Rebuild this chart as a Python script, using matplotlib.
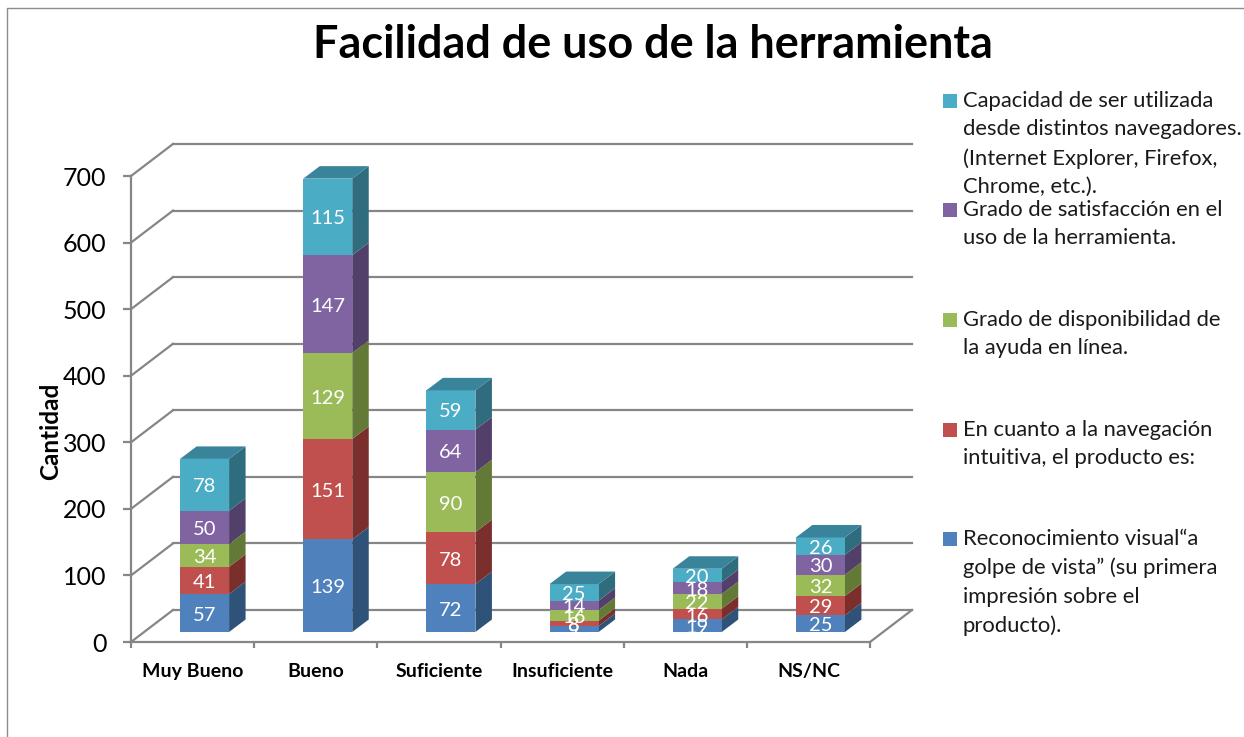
import numpy as np
import matplotlib
matplotlib.use("Agg")
import matplotlib.pyplot as plt
from matplotlib.patches import Polygon, Rectangle

plt.rcParams["font.family"] = ["Lato", "DejaVu Sans"]

W, H = 1244, 737

categorias = ["Muy Bueno", "Bueno", "Suficiente", "Insuficiente", "Nada", "NS/NC"]
reconocimiento = [57, 139, 72, 9, 19, 25]
navegacion = [41, 151, 78, 8, 16, 29]
ayuda = [34, 129, 90, 16, 22, 32]
satisfaccion = [50, 147, 64, 14, 18, 30]
navegadores = [78, 115, 59, 25, 20, 26]
y_ticks = [0, 100, 200, 300, 400, 500, 600, 700]

series = [reconocimiento, navegacion, ayuda, satisfaccion, navegadores]
col_frente = ["#4f81bd", "#c0504d", "#9bbb59", "#8064a2", "#4bacc6"]
col_lado = ["#2f5279", "#7b2f2d", "#637a36", "#523f6a", "#2f6d7e"]
col_tope = ["#3a6591", "#963f3c", "#7a9446", "#654f82", "#39849a"]

leyenda = [
    ("Capacidad de ser utilizada\ndesde distintos navegadores.\n(Internet Explorer, Firefox,\nChrome, etc.).", 101, "#4bacc6"),
    ("Grado de satisfacción en el\nuso de la herramienta.", 210, "#8064a2"),
    ("Grado de disponibilidad de\nla ayuda en línea.", 320, "#9bbb59"),
    ("En cuanto a la navegación\nintuitiva, el producto es:", 430, "#c0504d"),
    ("Reconocimiento visual“a\ngolpe de vista” (su primera\nimpresión sobre el\nproducto).", 539, "#4f81bd"),
]

GRIS = "#868686"
LW = 1.6

fig = plt.figure(figsize=(W / 100, H / 100), dpi=100, facecolor="white")

# ejes en pixeles para marco, titulo y leyenda
bg = fig.add_axes([0, 0, 1, 1])
bg.set_xlim(0, W)
bg.set_ylim(H, 0)
bg.axis("off")
bg.plot([W, 7, 7], [8, 8, H], color="#8c8c8c", lw=1.0)
bg.text(653, 45, "Facilidad de uso de la herramienta", fontsize=32.4, fontweight="bold",
        ha="center", va="center", color="black")
for txt, y, c in leyenda:
    bg.add_patch(Rectangle((943, y - 7), 14, 14, facecolor=c, edgecolor="none"))
    bg.text(963, y - 10, txt, fontsize=15.8, va="top", ha="left", color="#1a1a1a", linespacing=1.52)

# ejes del grafico: x = categoria, y = cantidad
x0, x1, y0, y700 = 131, 870, 642, 176
ax = fig.add_axes([x0 / W, 1 - y0 / H, (x1 - x0) / W, (y0 - y700) / H])
ax.set_xlim(0, len(categorias))
ax.set_ylim(0, 700)
ax.patch.set_visible(False)
for s in ["top", "right"]:
    ax.spines[s].set_visible(False)
for s in ["left", "bottom"]:
    ax.spines[s].set_color(GRIS)
    ax.spines[s].set_linewidth(LW)

px_x = len(categorias) / (x1 - x0)
px_y = 700 / (y0 - y700)
# profundidad de la pared y de las barras
dx_pared, dy_pared = 42 * px_x, 32 * px_y
dx_barra, dy_barra = 16.5 * px_x, 12.5 * px_y
ox_barra, oy_barra = 12 * px_x, 10 * px_y
ancho = 49 * px_x

for t in y_ticks:
    ax.plot([0, dx_pared], [t, t + dy_pared], color=GRIS, lw=LW, clip_on=False, zorder=1)
    ax.plot([dx_pared, len(categorias) + dx_pared], [t + dy_pared] * 2, color=GRIS, lw=LW,
            clip_on=False, zorder=1)
ax.plot([len(categorias), len(categorias) + dx_pared], [0, dy_pared], color=GRIS, lw=LW,
        clip_on=False, zorder=1)

xs = np.arange(len(categorias)) + 0.5 + ox_barra
base = np.full(len(categorias), oy_barra)
for k, vals in enumerate(series):
    vals = np.array(vals, dtype=float)
    ax.bar(xs, vals, ancho, bottom=base, color=col_frente[k], zorder=3 + 0.1 * k, clip_on=False)
    for xc, b, v in zip(xs, base, vals):
        d = xc + ancho / 2
        ax.add_patch(Polygon([(d, b), (d + dx_barra, b + dy_barra),
                              (d + dx_barra, b + v + dy_barra), (d, b + v)],
                             facecolor=col_lado[k], edgecolor="none", zorder=2.5, clip_on=False))
        ax.text(xc, b + v / 2 - 2 * px_y, f"{int(v)}", color="white", fontsize=14.5, ha="center",
                va="center", zorder=6, clip_on=False)
    base = base + vals
    if k == len(series) - 1:
        for xc, b in zip(xs, base):
            i = xc - ancho / 2
            ax.add_patch(Polygon([(i, b), (i + ancho, b), (i + ancho + dx_barra, b + dy_barra),
                                  (i + dx_barra, b + dy_barra)],
                                 facecolor=col_tope[k], edgecolor="none", zorder=4, clip_on=False))

ax.set_yticks(y_ticks)
ax.set_xticks(range(len(categorias) + 1))
ax.set_xticklabels([])
ax.tick_params(axis="y", length=5.8, width=LW, color=GRIS, labelsize=18, pad=12)
ax.tick_params(axis="x", length=4.3, width=LW, color=GRIS)
for l in ax.get_yticklabels():
    l.set_verticalalignment("center_baseline")
for i, c in enumerate(categorias):
    ax.annotate(c, (i + 0.5, 0), xytext=(0, -21), textcoords="offset points", ha="center",
                va="center", fontsize=14, fontweight="bold", annotation_clip=False)
ax.set_ylabel("Cantidad", fontsize=17.5, fontweight="bold")
ax.yaxis.set_label_coords(-0.093, 0.453)

fig.savefig("out.png", dpi=100, facecolor="white")
